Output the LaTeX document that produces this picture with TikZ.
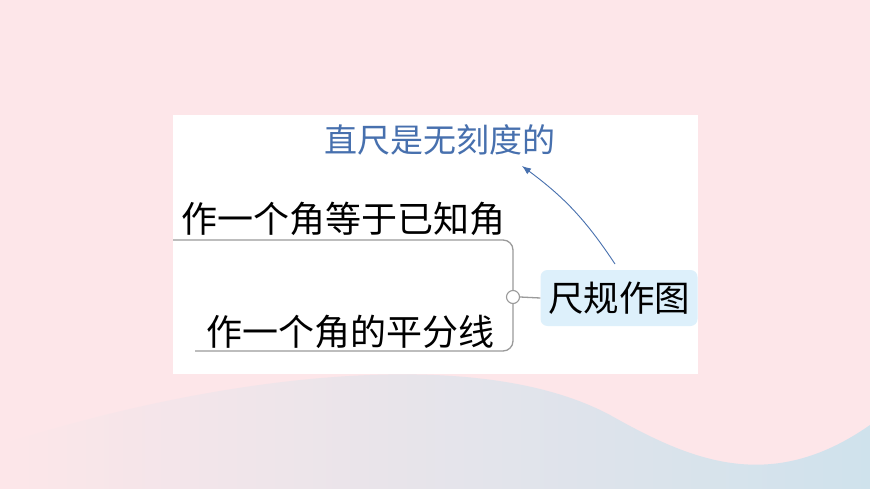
\documentclass[tikz,border=0pt]{standalone}
\usepackage{fontspec}
\newfontfamily\cjk{Noto Sans CJK SC}
\usetikzlibrary{arrows.meta}
\definecolor{bgpink}{HTML}{FDE6E9}
\definecolor{wave}{HTML}{CFE2EC}
\definecolor{notec}{HTML}{4770AE}
\definecolor{rootfill}{HTML}{DDF0FB}
\definecolor{branchc}{HTML}{9A9A9A}
\tikzset{
  branchtext/.style={font=\cjk\fontsize{36}{36}\selectfont, inner sep=0pt, text=black},
  roottext/.style={font=\cjk\fontsize{35.5}{36}\selectfont, fill=rootfill, rounded corners=7pt, minimum width=157pt, minimum height=56pt, inner sep=0pt},
  notetext/.style={font=\cjk\fontsize{33}{33}\selectfont, text=notec, inner sep=0pt},
  branchline/.style={draw=branchc, line width=1.3pt, rounded corners=10pt},
  knob/.style={circle, draw=branchc, fill=white, line width=1.1pt, minimum size=13pt, inner sep=0pt},
  notearrow/.style={draw=notec, line width=0.9pt, -{Latex[length=9pt,width=7pt]}}
}
\begin{document}
\begin{tikzpicture}[x=1pt,y=-1pt]
\path[use as bounding box, fill=bgpink] (0,0) rectangle (870,489);
% background wave
\shade[left color=bgpink, right color=wave, shading angle=90]
  (0,489) -- (0,445) .. controls (200,380) and (470,340) .. (610,415)
  .. controls (690,460) and (770,495) .. (870,425) -- (870,489) -- cycle;
% white panel
\fill[white] (173,115) rectangle (698,374);
% nodes
\node[notetext] (note) at (440,140) {直尺是无刻度的};
\node[branchtext] (b1) at (343,219) {作一个角等于已知角};
\node[branchtext] (b2) at (350,332) {作一个角的平分线};
\node[roottext] (root) at (619,298) {尺规作图};
\node[knob] (k) at (513,297) {};
\coordinate (e1) at (173,240);
\coordinate (e2) at (195,351);
\coordinate (as) at (615,264);
% connectors
\draw[branchline] (k.north) |- (e1);
\draw[branchline] (k.south) |- (e2);
\draw[draw=branchc, line width=1.3pt] (k.east) -- (root.west);
\draw[notearrow] (as) to[bend right=10] (522,166);
\end{tikzpicture}
\end{document}
